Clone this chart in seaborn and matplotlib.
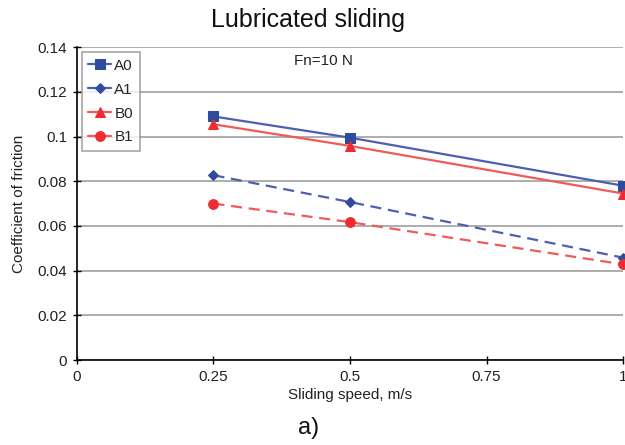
import matplotlib
matplotlib.use("Agg")
import matplotlib.pyplot as plt
import seaborn as sns
import pandas as pd

speed = [0.25, 0.5, 1.0]
a0 = [0.109, 0.0995, 0.078]
a1 = [0.0827, 0.0707, 0.0458]
b0 = [0.1055, 0.0958, 0.0745]
b1 = [0.0700, 0.0617, 0.0428]

series_names = ["A0", "A1", "B0", "B1"]
series_vals = [a0, a1, b0, b1]

sns.set_theme(style="white")
plt.rcParams["font.family"] = ["Liberation Sans", "DejaVu Sans"]

rows = []
for name, vals in zip(series_names, series_vals):
    for s, v in zip(speed, vals):
        rows.append({"speed": s, "cof": v, "series": name})
df = pd.DataFrame(rows)

blue = "#2E4C9E"
red = "#EE2B30"
styles = {
    "A0": dict(color=blue, marker="s", linestyle="-", ms=7, lc="#4F5FB0"),
    "A1": dict(color=blue, marker="D", linestyle=(0, (5, 3)), ms=5, lc="#4F5FB0"),
    "B0": dict(color=red, marker="^", linestyle="-", ms=7, lc="#F05A5A"),
    "B1": dict(color=red, marker="o", linestyle=(0, (5, 3)), ms=7, lc="#F05A5A"),
}

fig = plt.figure(figsize=(6.25, 4.45), dpi=100)
ax = fig.add_axes([0.123, 0.191, 0.874, 0.703])

for name in series_names:
    st = styles[name]
    sub = df[df["series"] == name]
    sns.lineplot(data=sub, x="speed", y="cof", ax=ax, color=st["lc"],
                 linestyle=st["linestyle"], linewidth=1.6, marker=st["marker"],
                 markersize=st["ms"], markerfacecolor=st["color"],
                 markeredgecolor=st["color"], label=name, clip_on=False)

ax.set_xlim(0, 1)
ax.set_ylim(0, 0.14)
ax.set_xticks([0, 0.25, 0.5, 0.75, 1])
ax.set_xticklabels(["0", "0.25", "0.5", "0.75", "1"])
ax.set_yticks([0, 0.02, 0.04, 0.06, 0.08, 0.1, 0.12, 0.14])
ax.set_yticklabels(["0", "0.02", "0.04", "0.06", "0.08", "0.1", "0.12", "0.14"])
ax.yaxis.grid(True, color="#A0A0A0", linewidth=1.2)
ax.xaxis.grid(False)
ax.set_axisbelow(True)

for side in ["top", "right"]:
    ax.spines[side].set_visible(False)
for side in ["left", "bottom"]:
    ax.spines[side].set_color("black")
    ax.spines[side].set_linewidth(1.2)
ax.tick_params(axis="both", which="major", direction="inout", length=6,
               width=1, color="black", labelsize=11, labelcolor="#222222",
               left=True, bottom=True, pad=4)

ax.set_xlabel("Sliding speed, m/s", fontsize=11, color="#222222", labelpad=3)
ax.set_ylabel("Coefficient of friction", fontsize=11, color="#222222", labelpad=8)

fig.text(0.493, 0.955, "Lubricated sliding", ha="center", va="center",
         fontsize=18, color="#111111")
ax.text(0.398, 0.955, "Fn=10 N", transform=ax.transAxes, ha="left",
        va="center", fontsize=11, color="#222222")
fig.text(0.493, 0.038, "a)", ha="center", va="center", fontsize=17,
         color="#111111")

leg = ax.legend(loc="upper left", bbox_to_anchor=(0.003, 0.995), frameon=True,
                fancybox=False, edgecolor="#909090", fontsize=11,
                handlelength=1.5, handletextpad=0.2, borderpad=0.45,
                labelspacing=0.65, borderaxespad=0.2)
leg.get_frame().set_linewidth(1.2)
for h in leg.get_lines():
    h.set_linestyle("-")

fig.savefig("out.png", dpi=100)
